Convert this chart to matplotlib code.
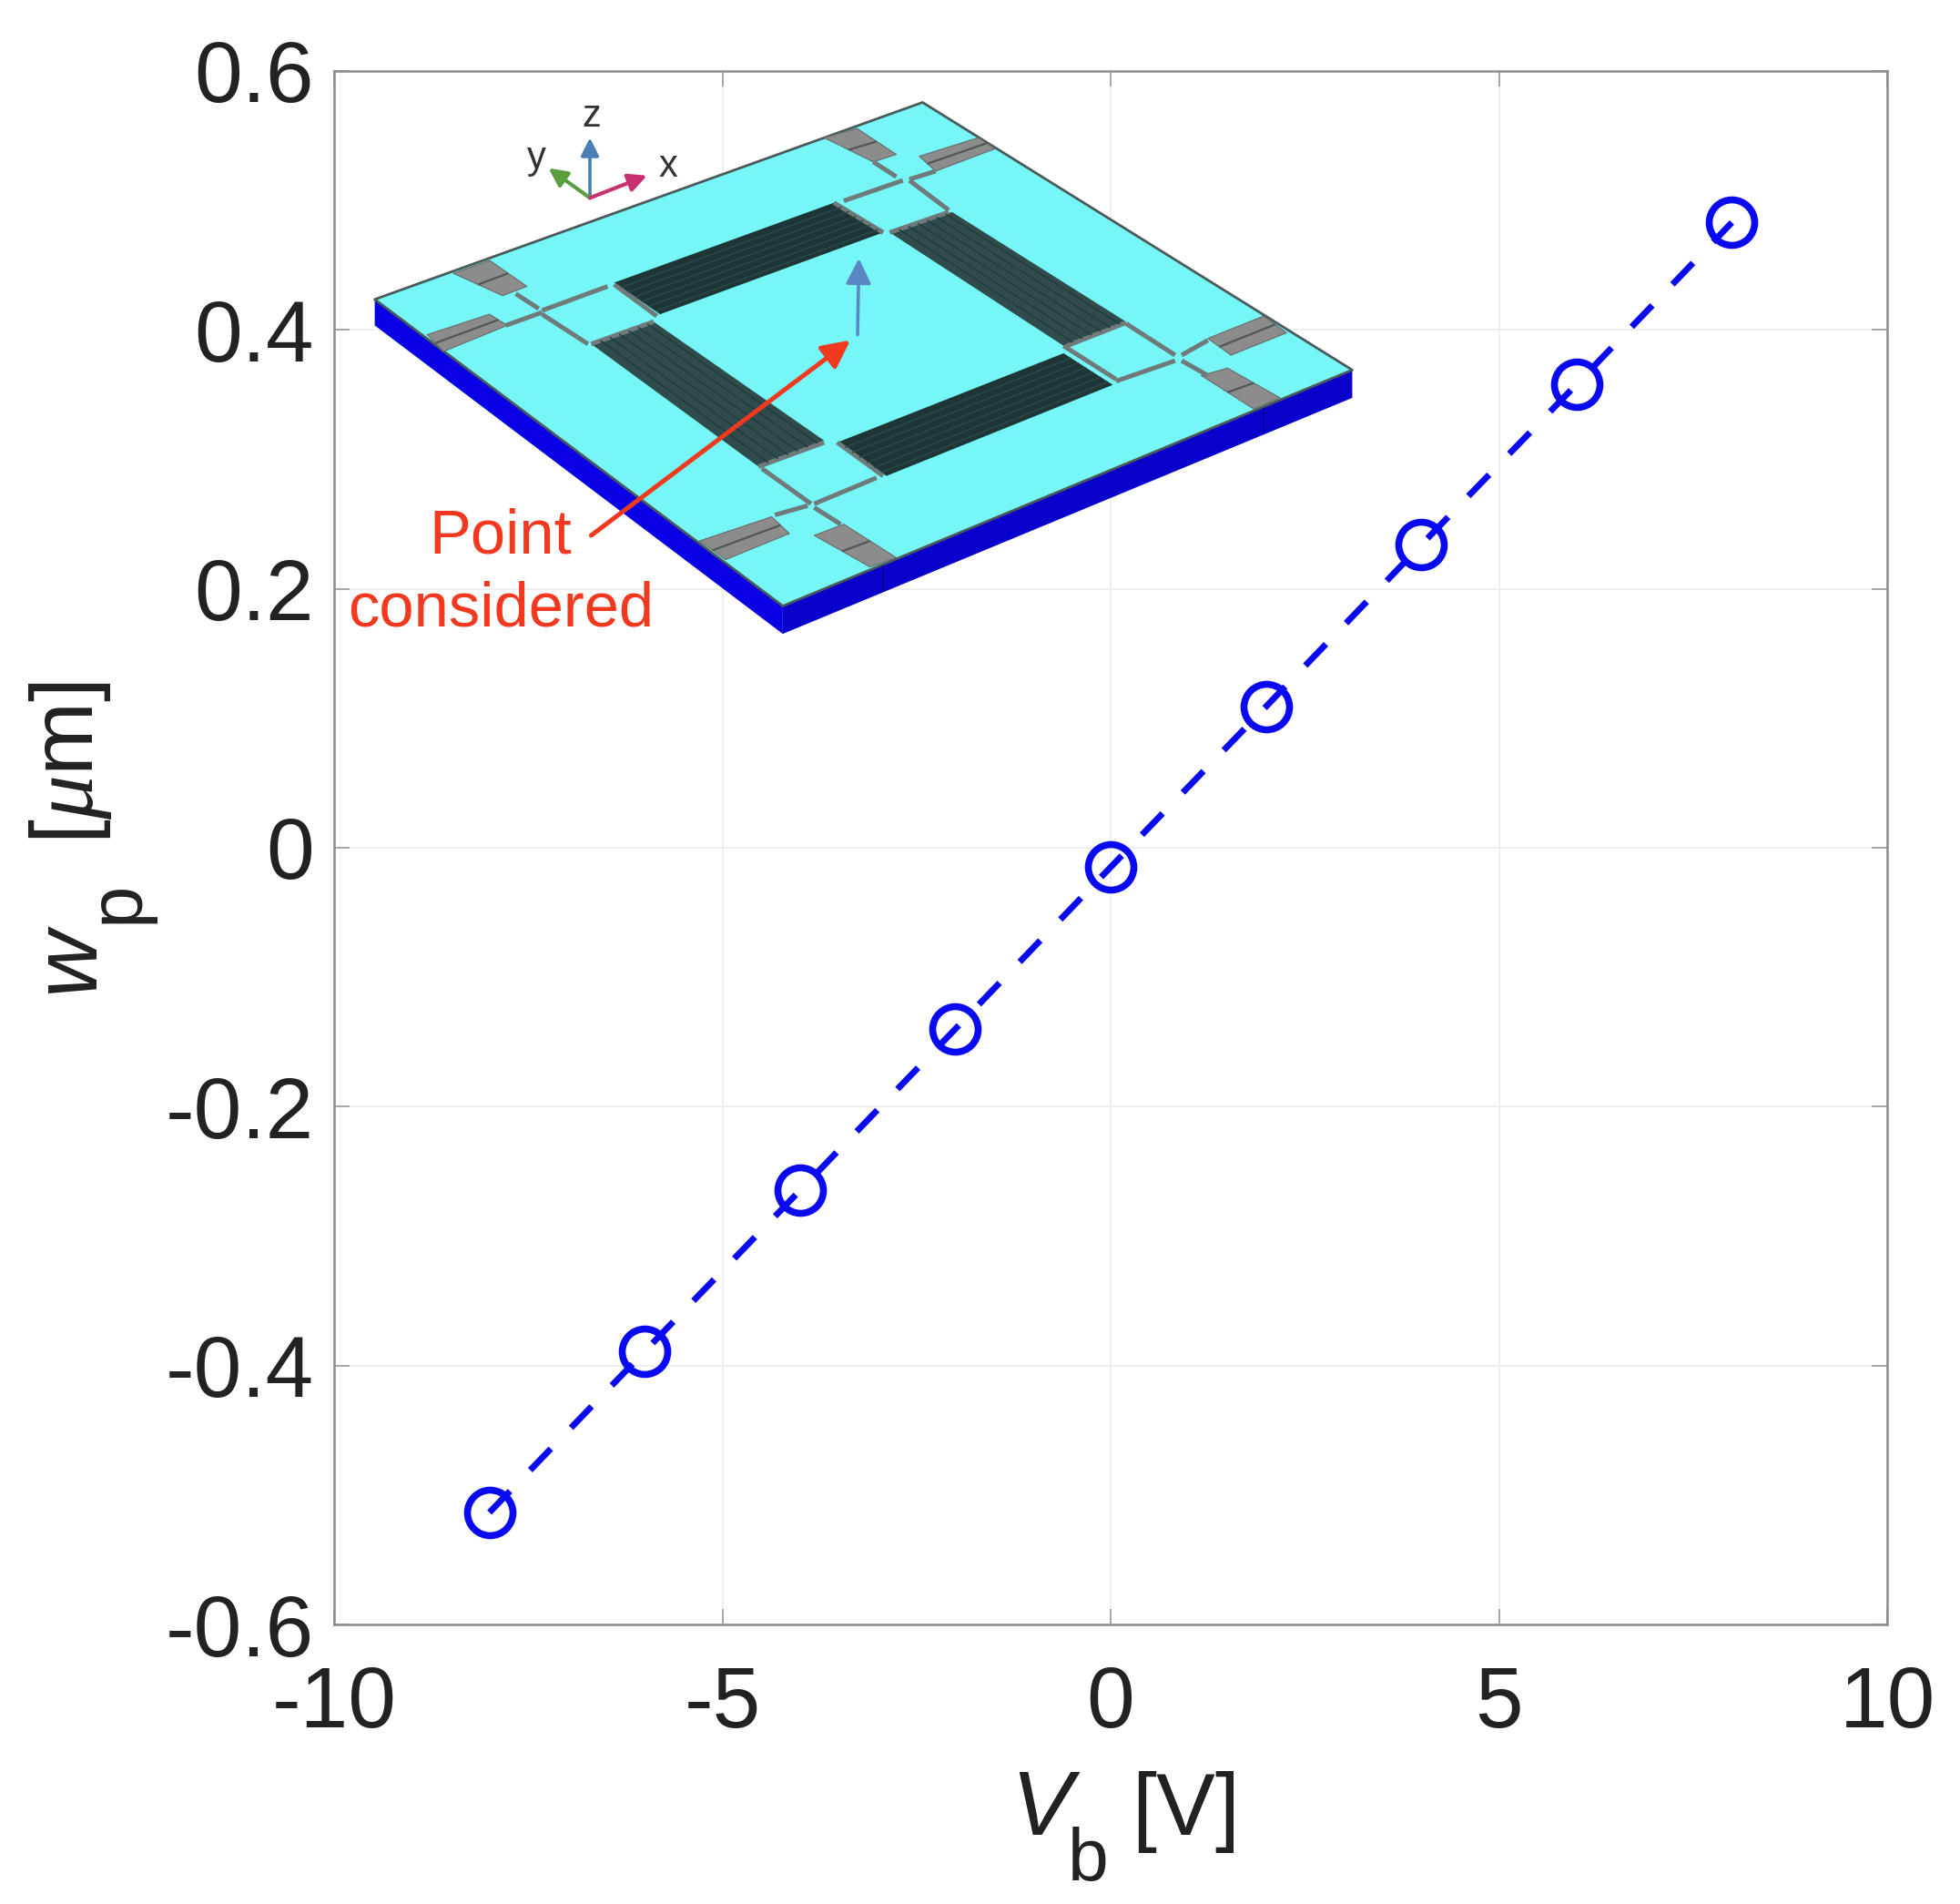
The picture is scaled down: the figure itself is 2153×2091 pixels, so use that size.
import matplotlib
matplotlib.use("Agg")
import matplotlib.pyplot as plt
from matplotlib.patches import Polygon, FancyArrowPatch

plt.rcParams['font.family'] = ['Liberation Sans', 'DejaVu Sans']
plt.rcParams['mathtext.fontset'] = 'custom'
plt.rcParams['mathtext.rm'] = 'Liberation Sans'
plt.rcParams['mathtext.it'] = 'Liberation Serif:italic'
plt.rcParams['mathtext.bf'] = 'Liberation Sans:bold'

# data
v_b = [-8, -6, -4, -2, 0, 2, 4, 6, 8]
w_p = [-0.5135, -0.389, -0.2647, -0.140, -0.015, 0.109, 0.234, 0.358, 0.483]
x_ticks = [-10, -5, 0, 5, 10]
y_ticks = [-0.6, -0.4, -0.2, 0, 0.2, 0.4, 0.6]
x_ticklabels = ['-10', '-5', '0', '5', '10']
y_ticklabels = ['-0.6', '-0.4', '-0.2', '0', '0.2', '0.4', '0.6']

W, H = 2153, 2091
fig = plt.figure(figsize=(W / 100, H / 100), dpi=100, facecolor='white')
L, R, T, B = 367, 2073, 78, 1784
ax = fig.add_axes([L / W, 1 - B / H, (R - L) / W, (B - T) / H])
ax.set_xlim(-10, 10)
ax.set_ylim(-0.6, 0.6)
ax.set_xticks(x_ticks)
ax.set_yticks(y_ticks)
ax.set_xticklabels(x_ticklabels)
ax.set_yticklabels(y_ticklabels)
ax.grid(True, color='#ececec', lw=1.2)
ax.set_axisbelow(True)
ax.tick_params(direction='in', length=12, width=1.2, color='#9a9a9a', top=True, right=True,
               labelsize=68, labelcolor='#222222')
ax.tick_params(axis='x', pad=32)
ax.tick_params(axis='y', pad=16)
for s in ax.spines.values():
    s.set_color('#8c8c8c')
    s.set_linewidth(1.8)

ax.plot(v_b, w_p, color='#0a0af0', lw=5.0, dashes=(4.7, 4.6), dash_capstyle='butt',
        marker='o', ms=36, mfc='none', mec='#0a0af0', mew=5.5, clip_on=False)

# overlay in pixel coordinates for the inset illustration and labels
ov = fig.add_axes([0, 0, 1, 1], zorder=5)
ov.set_xlim(0, W)
ov.set_ylim(H, 0)
ov.axis('off')
ov.patch.set_alpha(0)


def zp(pts):
    return [(390 + x / 1.3876, 90 + y / 2.45) for x, y in pts]


def poly(pts, fc, ec='none', lw=0, z=2):
    ov.add_patch(Polygon(zp(pts), closed=True, fc=fc, ec=ec, lw=lw, zorder=z, joinstyle='round'))


def seg(a, b, c='#6f7a7a', lw=3.6, z=3, ls='-'):
    (x0, y0), (x1, y1) = zp([a, b])
    ov.plot([x0, x1], [y0, y1], color=c, lw=lw, zorder=z, solid_capstyle='butt', ls=ls)


def lerp(a, b, t):
    return (a[0] + (b[0] - a[0]) * t, a[1] + (b[1] - a[1]) * t)


CYAN = '#76f6f6'
BLUE = '#0a00e6'
GREY = '#8c8c8c'

# plate
poly([(30, 585), (652, 1410), (652, 1485), (30, 655)], BLUE)
poly([(652, 1410), (1520, 775), (1520, 850), (652, 1485)], '#0a00cc')
poly([(30, 585), (865, 55), (1520, 775), (652, 1410)], CYAN, ec='#4a5a5a', lw=2)
seg((805, 1300), (805, 1372), '#06008a', 1.2)
seg((1385, 878), (1385, 945), '#06008a', 1.2)

# dark beams with mesh lines along them
beams = [
    ([(395, 540), (730, 325), (805, 405), (465, 625)], '#1f3636', '#2c4a4a'),
    ([(735, 970), (1080, 730), (1155, 815), (810, 1060)], '#1f3636', '#2c4a4a'),
    ([(815, 405), (910, 350), (1175, 645), (1080, 710)], '#2f4b4b', '#1f3a3a'),
    ([(360, 705), (455, 645), (715, 965), (615, 1035)], '#2f4b4b', '#1f3a3a'),
]
for pts, fc, mesh in beams:
    poly(pts, fc, z=3)
    a, b, c, d = pts
    if fc == '#1f3636':
        e0, e1, e2, e3 = a, d, b, c
    else:
        e0, e1, e2, e3 = a, b, d, c
    for t in (0.15, 0.3, 0.45, 0.6, 0.75, 0.9):
        seg(lerp(e0, e1, t), lerp(e2, e3, t), mesh, 1.0, 3.5)

# grey contact pads
pads = [
    [(715, 150), (765, 125), (825, 195), (790, 215)],
    [(860, 200), (950, 150), (975, 180), (885, 240)],
    [(150, 515), (205, 480), (262, 550), (225, 575)],
    [(110, 680), (205, 625), (232, 655), (135, 725)],
    [(525, 1235), (635, 1170), (662, 1215), (565, 1285)],
    [(700, 1220), (745, 1190), (825, 1280), (785, 1305)],
    [(1300, 690), (1385, 630), (1420, 675), (1335, 735)],
    [(1290, 790), (1330, 770), (1410, 850), (1370, 880)],
]
for p in pads:
    poly(p, GREY, ec='#6a6a6a', lw=0.8, z=3)
    a, b, c, d = p
    seg(lerp(a, d, 0.5), lerp(b, c, 0.5), '#4f5757', 1.6, 4)

# suspension lines
links = [
    ((835, 265), (745, 320)), ((845, 265), (905, 345)), ((845, 262), (885, 240)), ((825, 255), (790, 215)),
    ((285, 615), (385, 550)), ((285, 625), (355, 705)), ((285, 620), (230, 655)), ((280, 610), (245, 570)),
    ((695, 1135), (620, 1040)), ((700, 1135), (795, 1065)), ((690, 1140), (640, 1165)), ((700, 1145), (740, 1190)),
    ((1250, 735), (1175, 650)), ((1250, 750), (1160, 805)), ((1260, 735), (1300, 695)), ((1260, 750), (1300, 790)),
    ((395, 545), (460, 630)), ((735, 970), (805, 1060)), ((730, 325), (805, 405)), ((1080, 710), (1160, 800)),
    ((360, 705), (455, 645)), ((615, 1035), (715, 970)), ((815, 405), (905, 350)), ((1085, 710), (1175, 648)),
]
for a, b in links:
    seg(a, b)


def arrow(a, b, c, lw, scale, z=6):
    (p0, p1) = zp([a, b])
    ov.add_patch(FancyArrowPatch(p0, p1, arrowstyle='-|>', mutation_scale=scale, color=c, lw=lw,
                                 shrinkA=0, shrinkB=0, zorder=z))


# coordinate triad
arrow((358, 312), (358, 150), '#4a7fb5', 2.6, 30)
arrow((358, 312), (295, 232), '#5a9e3d', 3, 30)
arrow((358, 312), (445, 252), '#c9306f', 3, 30)
for s, p in [('z', (360, 92)), ('y', (277, 205)), ('x', (477, 228))]:
    x, y = zp([p])[0]
    ov.text(x, y, s, fontsize=30, color='#333333', ha='center', va='center', zorder=6)

# point arrows
arrow((766, 680), (768, 475), '#5b86c4', 2.6, 42)
arrow((360, 1220), (755, 695), '#f0391f', 3.6, 46)

ov.text(550, 590, 'Point', color='#f0391f', fontsize=49.5, ha='center', va='center', zorder=7)
ov.text(550, 669, 'considered', color='#f0391f', fontsize=49.5, ha='center', va='center', zorder=7)

# axis labels, built from parts so that the subscripts sit as in the figure
TC = '#222222'
ov.text(1144, 2015, 'V', fontsize=73, style='italic', color=TC, ha='center', va='baseline')
ov.text(1195, 2065, 'b', fontsize=58, color=TC, ha='center', va='baseline')
ov.text(1303, 2015, '[V]', fontsize=70, color=TC, ha='center', va='baseline')

rot = dict(rotation=90, rotation_mode='anchor', ha='center', va='baseline', color=TC)
ov.text(102, 1053, 'w', fontsize=73, style='italic', **rot)
ov.text(152, 991, 'p', fontsize=60, **rot)
ov.text(102, 838, r'[$\mu$m]', fontsize=70, **rot)

fig.savefig('out.png', dpi=100, facecolor='white')
